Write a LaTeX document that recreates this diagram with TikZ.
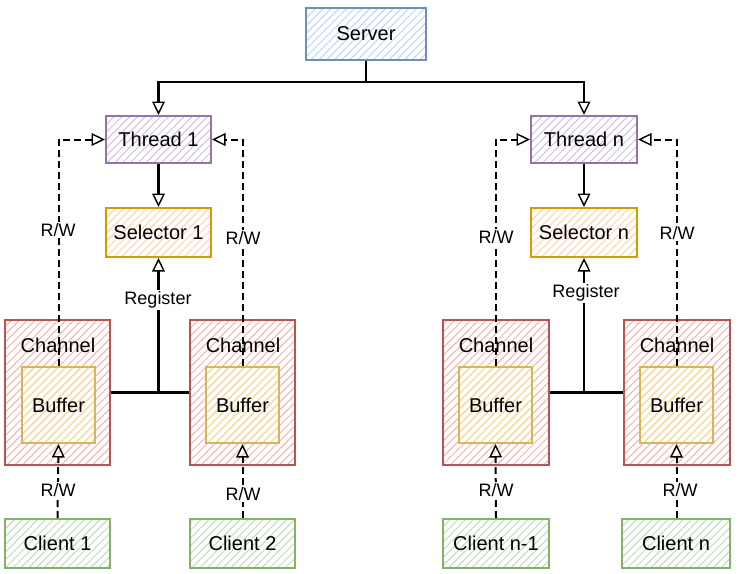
\documentclass[tikz,border=0pt]{standalone}
\usepackage{fontspec}
\setmainfont{Liberation Sans}
\usetikzlibrary{arrows.meta,patterns.meta}

% fill / stroke pairs for the box families
\definecolor{srvfill}{HTML}{BDD4F5}\definecolor{srvline}{HTML}{6C8EBF}
\definecolor{thrfill}{HTML}{D2BFDD}\definecolor{thrline}{HTML}{9673A6}
\definecolor{selfill}{HTML}{FFD3A6}\definecolor{selline}{HTML}{D79B00}
\definecolor{chfill}{HTML}{F3B3AF}\definecolor{chline}{HTML}{B85450}
\definecolor{buffill}{HTML}{F9DE8F}\definecolor{bufline}{HTML}{D6B656}
\definecolor{clfill}{HTML}{BDDBBA}\definecolor{clline}{HTML}{82B366}

\tikzset{
  sketch/.style 2 args={draw=#2, line width=2pt,
    pattern={Lines[angle=45,distance=5.5pt,line width=1pt]}, pattern color=#1,
    inner sep=0pt, font=\fontsize{20}{24}\selectfont},
  srvbox/.style={sketch={srvfill}{srvline}, minimum width=120pt, minimum height=52pt},
  thrbox/.style={sketch={thrfill}{thrline}, minimum width=105pt, minimum height=47pt},
  selbox/.style={sketch={selfill}{selline}, minimum width=105pt, minimum height=49pt},
  chbox/.style={sketch={chfill}{chline}, minimum width=105pt, minimum height=145pt},
  bufbox/.style={sketch={buffill}{bufline}, minimum width=73pt, minimum height=76pt},
  clbox/.style={sketch={clfill}{clline}, minimum width=105pt, minimum height=49pt},
  chtext/.style={inner sep=0pt, font=\fontsize{20}{24}\selectfont},
  tip/.style={-{Triangle[open,length=9pt,width=8.5pt,line width=1.4pt,scale=1.5]}},
  conn/.style={tip, line width=2.6pt},
  rw/.style={tip, line width=2pt, dash pattern=on 7pt off 4pt},
  lbl/.style={fill=white, inner sep=1.5pt, font=\fontsize{18}{20}\selectfont},
}

\begin{document}
\begin{tikzpicture}[x=1pt,y=-1pt]
\useasboundingbox (0,0) rectangle (738,573);

% server and worker threads
\node[srvbox] (srv) at (366,34) {Server};
\node[thrbox] (th1) at (158.5,139.5) {Thread 1};
\node[thrbox, minimum width=106pt] (thn) at (584,139.5) {Thread n};
\node[selbox] (sel1) at (158.5,232.5) {Selector 1};
\node[selbox, minimum width=106pt] (seln) at (584,232.5) {Selector n};

% channels with their buffers
\node[chbox] (ch1)  at (57.5,392.5) {};
\node[chbox] (ch2)  at (242.5,392.5) {};
\node[chbox, minimum width=106pt] (chn1) at (496,392.5) {};
\node[chbox, minimum width=106pt] (chn)  at (677,392.5) {};
\node[chtext] (cht1)  at (58,345) {Channel};
\node[chtext] (cht2)  at (243,345) {Channel};
\node[chtext] (chtn1) at (496,345) {Channel};
\node[chtext] (chtn)  at (677,345) {Channel};
\node[bufbox] (buf1)  at (58.5,405) {Buffer};
\node[bufbox] (buf2)  at (242.5,405) {Buffer};
\node[bufbox] (bufn1) at (495.5,405) {Buffer};
\node[bufbox] (bufn)  at (676.5,405) {Buffer};

% clients
\node[clbox] (cl1)  at (57.5,543.5) {Client 1};
\node[clbox] (cl2)  at (242.5,543.5) {Client 2};
\node[clbox, minimum width=106pt] (cln1) at (496,543.5) {Client n-1};
\node[clbox, minimum width=108pt] (cln)  at (676,543.5) {Client n};

% server fans out to the threads
\coordinate (bus) at (366,82);
\draw[conn] (srv.south) -- (bus) -| (th1.north);
\draw[conn] (bus) -| (thn.north);
\draw[conn] (th1) -- (sel1);
\draw[conn] (thn) -- (seln);

% channels register with the selectors
\draw[conn] (ch1.east) -| (sel1.south);
\draw[line width=2.6pt] (ch2.west) -- (ch2.west -| sel1.south);
\draw[conn] (chn1.east) -| (seln.south);
\draw[line width=2.6pt] (chn.west) -- (chn.west -| seln.south);

% thread reads / writes the buffers
\draw[rw] (buf1.north) |- (th1.west);
\draw[rw] (buf2.north) |- (th1.east);
\draw[rw] (bufn1.north) |- (thn.west);
\draw[rw] (bufn.north) |- (thn.east);

% clients read / write their buffers
\draw[rw] (cl1.north) -- (buf1.south);
\draw[rw] (cl2.north) -- (buf2.south);
\draw[rw] (cln1.north) -- (bufn1.south);
\draw[rw] (cln.north -| bufn.south) -- (bufn.south);

% edge labels
\node[lbl] (reg1) at (158,300) {Register};
\node[lbl] (regn) at (586,293) {Register};
\node[lbl] (rwa) at (58,230) {R/W};
\node[lbl] (rwb) at (243,238) {R/W};
\node[lbl] (rwc) at (496,237) {R/W};
\node[lbl] (rwd) at (677,233) {R/W};
\node[lbl] (rwe) at (58,490) {R/W};
\node[lbl] (rwf) at (243,494) {R/W};
\node[lbl] (rwg) at (496,490) {R/W};
\node[lbl] (rwh) at (680,490) {R/W};
\end{tikzpicture}
\end{document}
